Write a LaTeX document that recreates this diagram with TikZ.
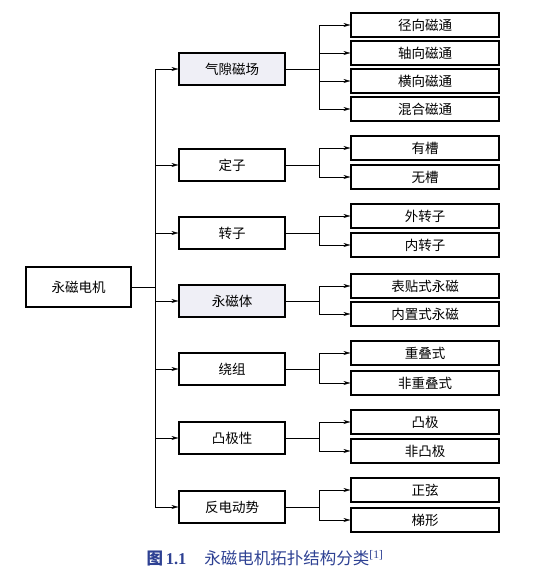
\documentclass[tikz,border=0pt]{standalone}
\usepackage{fontspec}
\setmainfont{Liberation Serif}
\newfontfamily\cjk{Noto Sans CJK SC}
\usetikzlibrary{arrows.meta}
\definecolor{capblue}{HTML}{2E4193}
\definecolor{boxfill}{HTML}{EFEFF6}
\begin{document}
\begin{tikzpicture}[x=1pt,y=-1pt,
  box/.style={draw, line width=1.1pt, inner sep=0pt, font=\cjk\fontsize{13.5}{15}\selectfont},
  rootbox/.style={box, minimum width=105, minimum height=40},
  midbox/.style={box, minimum width=106, minimum height=32},
  leafbox/.style={box, minimum width=148, minimum height=24},
  conn/.style={line width=0.5pt},
  arr/.style={conn, -{Stealth[length=7pt,width=4pt]}}]
\useasboundingbox (0,0) rectangle (536,570);
\node[rootbox] (root) at (78.5,287) {永磁电机};
\node[midbox, fill=boxfill] (m1) at (232,69) {气隙磁场};
\node[midbox] (m2) at (232,165) {定子};
\node[midbox] (m3) at (232,233) {转子};
\node[midbox, fill=boxfill] (m4) at (232,301) {永磁体};
\node[midbox] (m5) at (232,369) {绕组};
\node[midbox] (m6) at (232,438) {凸极性};
\node[midbox] (m7) at (232,507) {反电动势};
\node[leafbox] (a1) at (425,25) {径向磁通};
\node[leafbox] (a2) at (425,53) {轴向磁通};
\node[leafbox] (a3) at (425,81) {横向磁通};
\node[leafbox] (a4) at (425,109) {混合磁通};
\node[leafbox] (b1) at (425,148) {有槽};
\node[leafbox] (b2) at (425,177) {无槽};
\node[leafbox] (c1) at (425,216) {外转子};
\node[leafbox] (c2) at (425,245) {内转子};
\node[leafbox] (d1) at (425,286) {表贴式永磁};
\node[leafbox] (d2) at (425,314) {内置式永磁};
\node[leafbox] (e1) at (425,353) {重叠式};
\node[leafbox] (e2) at (425,383) {非重叠式};
\node[leafbox] (f1) at (425,422) {凸极};
\node[leafbox] (f2) at (425,451) {非凸极};
\node[leafbox] (g1) at (425,490) {正弦};
\node[leafbox] (g2) at (425,520) {梯形};
\coordinate (bus) at (155,0);
\coordinate (br) at (319,0);
% trunk
\draw[conn] (root.east) -- (root.east -| bus);
\draw[conn] (m1.west -| bus) -- (m7.west -| bus);
\foreach \m in {m1,m2,m3,m4,m5,m6,m7}
  \draw[arr] (\m.west -| bus) -- (\m.west);
% branches
\foreach \m/\first/\last/\list in {m1/a1/a4/{a1,a2,a3,a4}, m2/b1/b2/{b1,b2}, m3/c1/c2/{c1,c2}, m4/d1/d2/{d1,d2}, m5/e1/e2/{e1,e2}, m6/f1/f2/{f1,f2}, m7/g1/g2/{g1,g2}}{
  \draw[conn] (\m.east) -- (\m.east -| br);
  \draw[conn] (\first.west -| br) -- (\last.west -| br);
  \foreach \c in \list
    \draw[arr] (\c.west -| br) -- (\c.west);
}
\node[text=capblue, font=\fontsize{16.5}{18}\selectfont, anchor=west] (cap) at (143,558)
  {{\cjk\bfseries 图}\,\textbf{1.1}\hspace{18pt}{\cjk 永磁电机拓扑结构分类}\textsuperscript{[1]}};
\end{tikzpicture}
\end{document}
